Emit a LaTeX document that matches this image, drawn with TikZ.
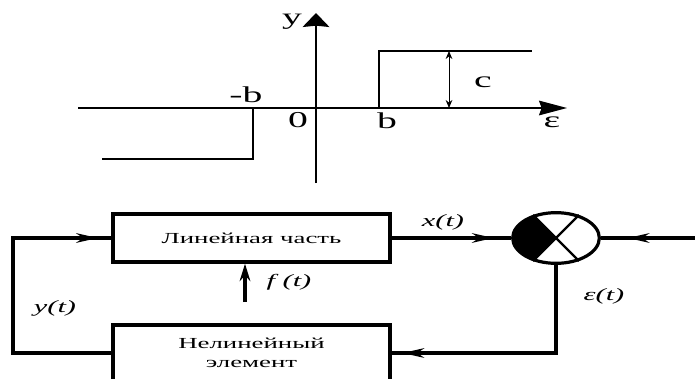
\documentclass[tikz,border=0pt]{standalone}
\usepackage{fontspec}
\setmainfont{Liberation Serif}
\newfontfamily\widefont[FakeStretch=1.75]{Liberation Serif}
\usetikzlibrary{arrows.meta, decorations.markings, shapes.geometric}

\tikzset{
  axisline/.style={line width=1.3pt},
  stepline/.style={line width=1.7pt},
  blockbox/.style={draw, line width=2.6pt, minimum width=207.75pt, inner sep=0pt, align=center, font=\widefont\fontsize{11.5}{14.5}\selectfont},
  sumnode/.style={draw, ellipse, line width=2.4pt, minimum width=65pt, minimum height=38pt, inner sep=0pt},
  sigline/.style={line width=2.8pt},
  arrowat/.style={postaction={decorate}, decoration={markings, mark=at position #1 with {\arrow{Stealth[length=16pt, width=7pt, inset=5pt]}}}},
  axislabel/.style={font=\widefont\fontsize{17}{20}\selectfont, anchor=base},
  siglabel/.style={font=\widefont\itshape\fontsize{13}{15}\selectfont}
}

\begin{document}
\begin{tikzpicture}[x=0.75pt, y=-0.75pt]
\useasboundingbox (0,0) rectangle (695,378);
\draw [axisline, -{Stealth[length=21pt, width=11pt, inset=2pt]}] (78,108) -- (567,108);
\draw [axisline, -{Stealth[length=10.5pt, width=20pt, inset=1pt]}] (316,183) -- (316,13);
\draw [stepline] (102,159) -- (253,159) -- (253,108);
\draw [stepline] (379,108) -- (379,51) -- (532,51);
\draw [line width=0.7pt, {Stealth[length=6pt, width=5pt]}-{Stealth[length=6pt, width=5pt]}] (449,51) -- (449,108);
\node [axislabel] (ylab) at (292,25) {y};
\node [axislabel] (mblab) at (246,103) {-b};
\node [axislabel] (zerolab) at (298,127) {0};
\node [axislabel] (blab) at (387,128) {b};
\node [axislabel] (epslab) at (552,127) {ε};
\node [axislabel] (clab) at (483,87) {c};

\node [blockbox, minimum height=36pt] (linear) at (251.5,238) {Линейная часть};
\node [blockbox, minimum height=42pt] (nonlin) at (251.5,353) {Нелинейный\\элемент};
\node [sumnode] (sum) at (556,238) {};
\begin{scope}
\clip (sum.center) ellipse [x radius=32.5pt, y radius=19pt];
\fill (sum.center) -- ++(-45,-45) -- ++(0,90) -- cycle;
\end{scope}
\draw [line width=1.8pt] (sum.45) -- (sum.225) (sum.135) -- (sum.315);
\coordinate (input) at (695,238);
\coordinate (fsrc) at (245,302);

\draw [sigline, arrowat=-10pt] (nonlin.west) -- ++(-98,0) |- (linear.west);
\draw [sigline, arrowat=-13pt] (linear.east) -- (sum.west);
\draw [sigline, arrowat=-20pt] (input) -- (sum.east);
\draw [sigline, arrowat=-8pt] (sum.south) |- (nonlin.east);
\draw [sigline, -{Stealth[length=13pt, width=8pt]}] (fsrc) -- (fsrc |- linear.south);

\node [siglabel] (xlab) at (443,222) {x(t)};
\node [siglabel] (flab) at (289,282) {f (t)};
\node [siglabel] (ytlab) at (55,308) {y(t)};
\node [siglabel] (elab) at (604,296) {ε(t)};
\end{tikzpicture}
\end{document}
